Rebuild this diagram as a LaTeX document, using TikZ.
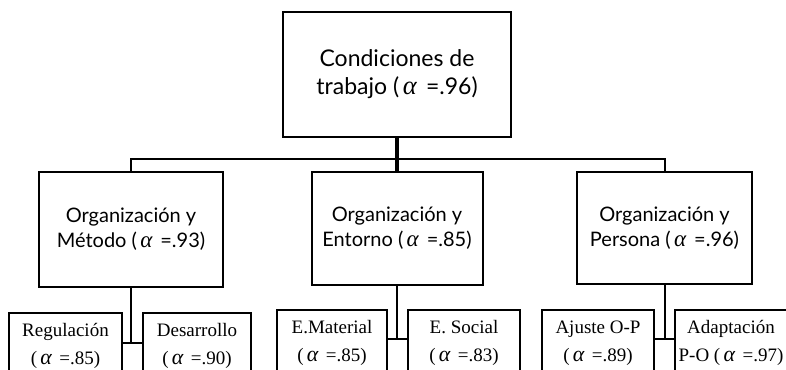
\documentclass[tikz,border=0pt]{standalone}
\usepackage{fontspec}
\newfontfamily\topfont{Lato}
\newfontfamily\botfont{Liberation Serif}
\newcommand\myalpha{\scalebox{1.15}{\botfont\itshape α}\hspace{0.4em}}
\begin{document}
\begin{tikzpicture}[x=1pt,y=-1pt,
  box/.style={draw=black, line width=2pt, inner sep=0pt, align=center},
  topbox/.style={box, font=\topfont\fontsize{23}{28}\selectfont},
  midbox/.style={box, font=\topfont\fontsize{20}{25}\selectfont},
  leaf/.style={box, font=\botfont\fontsize{19}{28}\selectfont, minimum height=66pt, anchor=north},
  link/.style={line width=2pt},
  trunk/.style={line width=3.5pt}]
\useasboundingbox (0,0) rectangle (786,369);
\clip (0,0) rectangle (786,369);

\node[topbox, minimum width=228pt, minimum height=125pt] (top) at (397,74.5) {Condiciones de\\trabajo (\,\myalpha=.96)};

\node[midbox, minimum width=184pt, minimum height=115pt] (om) at (131,229.5) {Organización y\\Método (\,\myalpha=.93)};
\node[midbox, minimum width=171pt, minimum height=113pt] (oe) at (397,228.5) {Organización y\\Entorno (\,\myalpha=.85)};
\node[midbox, minimum width=175pt, minimum height=112pt] (op) at (664.5,228) {Organización y\\Persona (\,\myalpha=.96)};

\node[leaf, minimum width=113pt] (reg) at (65.5,312) {Regulación\\(\,\myalpha=.85)};
\node[leaf, minimum width=108pt] (des) at (197,312) {Desarrollo\\(\,\myalpha=.90)};
\node[leaf, minimum width=110pt] (mat) at (332,309) {E.Material\\(\,\myalpha=.85)};
\node[leaf, minimum width=112pt] (soc) at (464,309) {E. Social\\(\,\myalpha=.83)};
\node[leaf, minimum width=112pt] (aju) at (598,309) {Ajuste O-P\\(\,\myalpha=.89)};
\node[leaf, minimum width=112pt] (ada) at (731,309) {Adaptación\\P-O (\,\myalpha=.97)};

\coordinate (hub) at (397,159);
\draw[trunk] (top.south) -- (oe.north);
\draw[link] (om.north) |- (hub) -| (op.north);

\coordinate (j1) at (131,343);
\coordinate (j2) at (397,339);
\coordinate (j3) at (664.5,339);
\draw[link] (om.south) -- (j1);
\draw[link] (reg.east |- j1) -- (des.west |- j1);
\draw[link] (oe.south) -- (j2);
\draw[link] (mat.east |- j2) -- (soc.west |- j2);
\draw[link] (op.south) -- (j3);
\draw[link] (aju.east |- j3) -- (ada.west |- j3);
\end{tikzpicture}
\end{document}
